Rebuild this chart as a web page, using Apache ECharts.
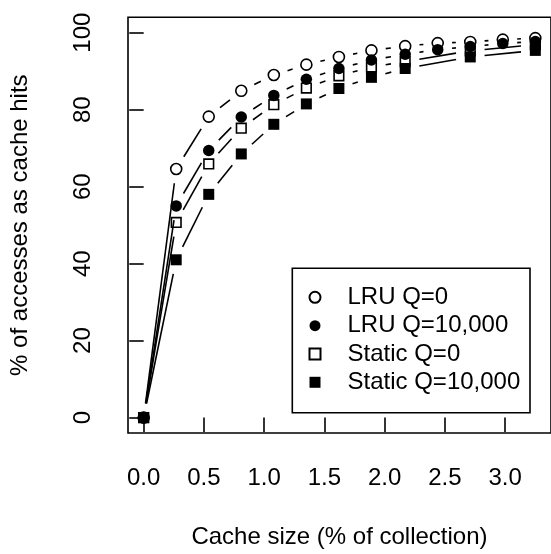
<!DOCTYPE html>
<html><head><meta charset="utf-8">
<script src="https://cdn.jsdelivr.net/npm/echarts@6/dist/echarts.min.js"></script>
<style>html,body{margin:0;padding:0;background:#fff}#c{width:551px;height:554px}</style>
</head><body><div id="c"></div>
<script>
// ---- data ----
const seriesNames = ['LRU Q=0', 'LRU Q=10,000', 'Static Q=0', 'Static Q=10,000'];
const xLRU    = [0, 0.27, 0.54, 0.81, 1.08, 1.35, 1.62, 1.89, 2.17, 2.44, 2.71, 2.98, 3.25];
const xStatic = [0, 0.27, 0.54, 0.81, 1.08, 1.35, 1.62, 1.89, 2.17, 2.71, 3.25];
const lruQ0      = [0, 64.6, 78.2, 84.9, 89.0, 91.7, 93.7, 95.4, 96.5, 97.3, 97.6, 98.2, 98.6];
const lruQ10000  = [0, 55.0, 69.4, 78.1, 83.7, 87.9, 90.7, 92.9, 94.4, 95.6, 96.4, 97.2, 97.7];
const staticQ0     = [0, 50.7, 65.9, 75.2, 81.3, 85.6, 88.8, 91.1, 92.5, 95.3, 96.9];
const staticQ10000 = [0, 41.0, 58.0, 68.5, 76.2, 81.5, 85.5, 88.4, 90.7, 93.7, 95.4];
const xTicks = [0, 0.5, 1.0, 1.5, 2.0, 2.5, 3.0];
const yTicks = [0, 20, 40, 60, 80, 100];
const xTitle = 'Cache size (% of collection)';
const yTitle = '% of accesses as cache hits';

// ---- helpers ----
const FONT = '"Liberation Sans", Arial, Helvetica, sans-serif';
const FS = 24;
const GAP = 14.4; // R type="b" gap around points (px)
const LW = 1.6;

function pairs(xs, ys) { return xs.map((x, i) => [x, ys[i]]); }
function segs(xs, ys) {
  const out = [];
  for (let i = 0; i < xs.length - 1; i++) out.push([xs[i], ys[i], xs[i + 1], ys[i + 1]]);
  return out;
}
function gapLine(params, api) {
  const p0 = api.coord([api.value(0), api.value(1)]);
  const p1 = api.coord([api.value(2), api.value(3)]);
  const dx = p1[0] - p0[0], dy = p1[1] - p0[1];
  const dist = Math.hypot(dx, dy);
  if (dist <= 2 * GAP) return { type: 'group', children: [] };
  const f = GAP / dist;
  return {
    type: 'line',
    shape: { x1: p0[0] + f * dx, y1: p0[1] + f * dy, x2: p1[0] - f * dx, y2: p1[1] - f * dy },
    style: { stroke: '#000', lineWidth: LW, fill: null }
  };
}

const defs = [
  { name: seriesNames[0], xs: xLRU, ys: lruQ0, symbol: 'circle', size: 11, fill: 'rgba(0,0,0,0)', bw: LW },
  { name: seriesNames[1], xs: xLRU, ys: lruQ10000, symbol: 'circle', size: 11.5, fill: '#000', bw: 0 },
  { name: seriesNames[2], xs: xStatic, ys: staticQ0, symbol: 'rect', size: 9.6, fill: 'rgba(0,0,0,0)', bw: LW },
  { name: seriesNames[3], xs: xStatic, ys: staticQ10000, symbol: 'rect', size: 11, fill: '#000', bw: 0 }
];

const series = [];
defs.forEach((d, i) => {
  series.push({
    type: 'custom', name: 'line' + i, coordinateSystem: 'cartesian2d',
    renderItem: gapLine, data: segs(d.xs, d.ys), silent: true, z: 1,
    encode: { x: [0, 2], y: [1, 3] }
  });
});
defs.forEach((d) => {
  series.push({
    type: 'scatter', name: d.name, data: pairs(d.xs, d.ys), symbol: d.symbol, symbolSize: d.size,
    itemStyle: { color: d.fill, borderColor: '#000', borderWidth: d.bw, opacity: 1 },
    z: 3, silent: true
  });
});

const chart = echarts.init(document.getElementById('c'), null, { renderer: 'canvas' });
chart.setOption({
  animation: false,
  backgroundColor: '#fff',
  textStyle: { fontFamily: FONT },
  grid: { left: 121.7, top: 17.3, bottom: 113.3, right: -3.5, show: true, borderColor: '#000', borderWidth: LW, backgroundColor: 'transparent' },
  xAxis: {
    type: 'value', min: -0.13, max: 3.38,
    axisLine: { show: false },
    splitLine: { show: false },
    axisTick: { show: true, inside: false, length: 14.4, lineStyle: { color: '#000', width: LW }, customValues: xTicks },
    axisLabel: { show: true, margin: 33, color: '#000', fontSize: FS, fontFamily: FONT,
      customValues: xTicks, formatter: v => v.toFixed(1) },
    name: xTitle, nameLocation: 'middle', nameGap: 92,
    nameTextStyle: { color: '#000', fontSize: FS, fontFamily: FONT }
  },
  yAxis: {
    type: 'value', min: -4, max: 104,
    axisLine: { show: false },
    splitLine: { show: false },
    axisTick: { show: true, inside: false, length: 14.4, lineStyle: { color: '#000', width: LW }, customValues: yTicks },
    axisLabel: { show: true, margin: 33, rotate: 90, color: '#000', fontSize: FS, fontFamily: FONT,
      customValues: yTicks, formatter: v => String(v) },
    name: yTitle, nameLocation: 'middle', nameGap: 96, nameRotate: 90,
    nameTextStyle: { color: '#000', fontSize: FS, fontFamily: FONT }
  },
  legend: {
    orient: 'vertical', left: 308.5, top: 285.3, padding: 0,
    itemWidth: 11, itemHeight: 11, itemGap: 4.33, selectedMode: false,
    data: seriesNames,
    textStyle: { color: '#000', fontSize: FS, fontFamily: FONT, lineHeight: 24, padding: [0, 0, 0, 22] }
  },
  graphic: [{
    type: 'rect', z: 0,
    shape: { x: 292.3, y: 268.3, width: 237.7, height: 144.5 },
    style: { fill: '#fff', stroke: '#000', lineWidth: LW }
  }],
  series: series
});
</script>
</body></html>
